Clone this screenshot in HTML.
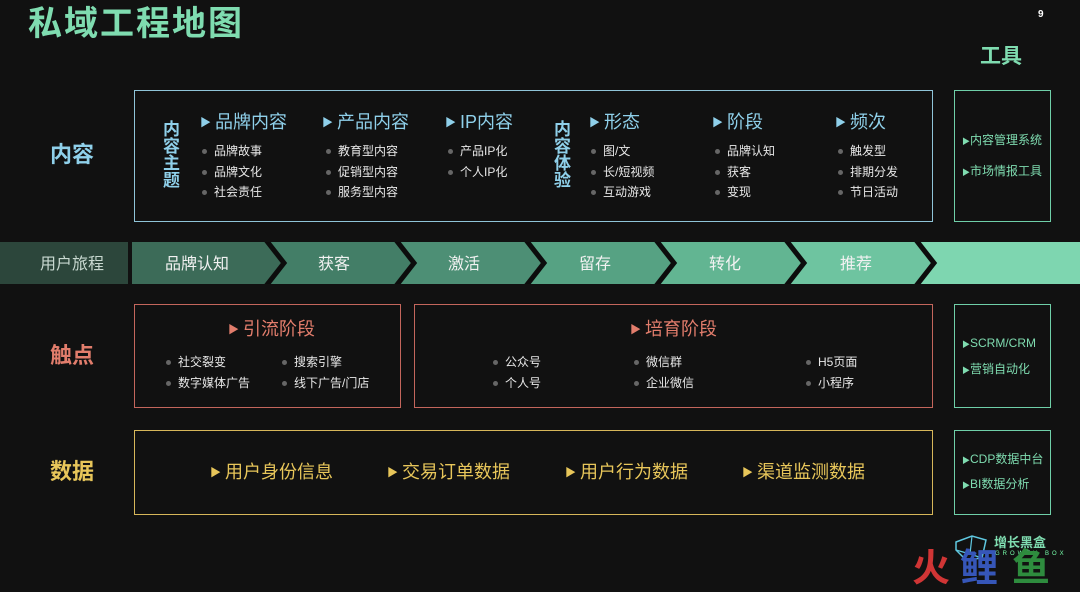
<!DOCTYPE html>
<html><head><meta charset="utf-8"><style>
body{margin:0;width:1080px;height:592px;background:#111111;position:relative;overflow:hidden;font-family:"Liberation Sans","Noto Sans CJK SC",sans-serif;}
.a{position:absolute;white-space:nowrap;line-height:1;}
.box{position:absolute;box-sizing:border-box;border:1.5px solid;}
.it{position:absolute;font-size:12px;color:#e8e8e8;white-space:nowrap;line-height:1;}
.it::before{content:"";position:absolute;left:-12px;top:4px;width:5px;height:5px;border-radius:50%;background:#666;}
.h{position:absolute;font-size:18px;white-space:nowrap;line-height:1;}
.tri{font-size:11px;vertical-align:2px;margin-right:4px;}
</style></head><body>
<div class="a" style="left:28px;top:7px;font-size:34px;font-weight:bold;color:#7fdcb0;letter-spacing:2px">私域工程地图</div>
<div class="a" style="left:1038px;top:10px;font-size:10px;font-weight:bold;color:#fff">9</div>
<div class="a" style="left:980px;top:46px;font-size:21px;font-weight:bold;color:#7fdcb0">工具</div>

<!-- content -->
<div class="box" style="left:134px;top:90px;width:799px;height:132px;border-color:#8fc4d8"></div>
<div class="box" style="left:954px;top:90px;width:97px;height:132px;border-color:#6fcfa8"></div>
<div class="a" style="left:50px;top:144px;font-size:22px;font-weight:bold;color:#8fd0ea">内容</div>
<div class="a" style="left:163px;top:121px;font-size:17px;font-weight:bold;color:#8fd0ea;width:18px;white-space:normal;line-height:17px">内容主题</div>
<div class="a" style="left:554px;top:121px;font-size:17px;font-weight:bold;color:#8fd0ea;width:18px;white-space:normal;line-height:17px">内容体验</div>
<div class="h" style="left:200px;top:113px;color:#8fd0ea"><span class="tri">▶</span>品牌内容</div>
<div class="h" style="left:322px;top:113px;color:#8fd0ea"><span class="tri">▶</span>产品内容</div>
<div class="h" style="left:445px;top:113px;color:#8fd0ea"><span class="tri">▶</span>IP内容</div>
<div class="h" style="left:589px;top:113px;color:#8fd0ea"><span class="tri">▶</span>形态</div>
<div class="h" style="left:712px;top:113px;color:#8fd0ea"><span class="tri">▶</span>阶段</div>
<div class="h" style="left:835px;top:113px;color:#8fd0ea"><span class="tri">▶</span>频次</div>
<div class="it" style="left:214px;top:145px">品牌故事</div><div class="it" style="left:214px;top:166px">品牌文化</div><div class="it" style="left:214px;top:186px">社会责任</div>
<div class="it" style="left:338px;top:145px">教育型内容</div><div class="it" style="left:338px;top:166px">促销型内容</div><div class="it" style="left:338px;top:186px">服务型内容</div>
<div class="it" style="left:460px;top:145px">产品IP化</div><div class="it" style="left:460px;top:166px">个人IP化</div>
<div class="it" style="left:603px;top:145px">图/文</div><div class="it" style="left:603px;top:166px">长/短视频</div><div class="it" style="left:603px;top:186px">互动游戏</div>
<div class="it" style="left:727px;top:145px">品牌认知</div><div class="it" style="left:727px;top:166px">获客</div><div class="it" style="left:727px;top:186px">变现</div>
<div class="it" style="left:850px;top:145px">触发型</div><div class="it" style="left:850px;top:166px">排期分发</div><div class="it" style="left:850px;top:186px">节日活动</div>
<div class="a" style="left:962px;top:134px;font-size:12px;color:#7fdcb0"><span style="font-size:8px">▶</span>内容管理系统</div>
<div class="a" style="left:962px;top:165px;font-size:12px;color:#7fdcb0"><span style="font-size:8px">▶</span>市场情报工具</div>

<!-- band -->
<svg class="a" style="left:0;top:242px" width="1080" height="42">
<rect x="0" y="0" width="128" height="42" fill="#2c463b"/>
<polygon points="918,0 1080,0 1080,42 918,42 935,21" fill="#7ed6b0"/>
<polygon points="788,0 918,0 935,21 918,42 788,42 805,21" fill="#6ec4a0"/>
<polygon points="658,0 788,0 805,21 788,42 658,42 675,21" fill="#62b592"/>
<polygon points="528,0 658,0 675,21 658,42 528,42 545,21" fill="#56a283"/>
<polygon points="398,0 528,0 545,21 528,42 398,42 415,21" fill="#4d8f75"/>
<polygon points="268,0 398,0 415,21 398,42 268,42 285,21" fill="#437e67"/>
<polygon points="132,0 268,0 285,21 268,42 132,42" fill="#3c6b58"/>
<g stroke="#0c0c0c" stroke-width="5" fill="none">
<polyline points="266,-2 284,21 266,44"/><polyline points="396,-2 414,21 396,44"/><polyline points="526,-2 544,21 526,44"/><polyline points="656,-2 674,21 656,44"/><polyline points="786,-2 804,21 786,44"/><polyline points="916,-2 934,21 916,44"/>
</g>
<g fill="#f2f2f2" font-size="16" font-family="Liberation Sans,Noto Sans CJK SC,sans-serif">
<text x="40" y="27" fill="#c8d8d0">用户旅程</text>
<text x="165" y="27">品牌认知</text><text x="318" y="27">获客</text><text x="448" y="27">激活</text><text x="579" y="27">留存</text><text x="709" y="27">转化</text><text x="840" y="27">推荐</text>
</g></svg>

<!-- touchpoints -->
<div class="box" style="left:134px;top:304px;width:267px;height:104px;border-color:#c4665c"></div>
<div class="box" style="left:414px;top:304px;width:519px;height:104px;border-color:#c4665c"></div>
<div class="box" style="left:954px;top:304px;width:97px;height:104px;border-color:#6fcfa8"></div>
<div class="a" style="left:50px;top:345px;font-size:22px;font-weight:bold;color:#e27d6c">触点</div>
<div class="h" style="left:228px;top:320px;color:#e27d6c"><span class="tri">▶</span>引流阶段</div>
<div class="h" style="left:630px;top:320px;color:#e27d6c"><span class="tri">▶</span>培育阶段</div>
<div class="it" style="left:178px;top:356px">社交裂变</div><div class="it" style="left:178px;top:377px">数字媒体广告</div>
<div class="it" style="left:294px;top:356px">搜索引擎</div><div class="it" style="left:294px;top:377px">线下广告/门店</div>
<div class="it" style="left:505px;top:356px">公众号</div><div class="it" style="left:505px;top:377px">个人号</div>
<div class="it" style="left:646px;top:356px">微信群</div><div class="it" style="left:646px;top:377px">企业微信</div>
<div class="it" style="left:818px;top:356px">H5页面</div><div class="it" style="left:818px;top:377px">小程序</div>
<div class="a" style="left:962px;top:337px;font-size:12px;color:#7fdcb0"><span style="font-size:8px">▶</span>SCRM/CRM</div>
<div class="a" style="left:962px;top:363px;font-size:12px;color:#7fdcb0"><span style="font-size:8px">▶</span>营销自动化</div>

<!-- data -->
<div class="box" style="left:134px;top:430px;width:799px;height:85px;border-color:#d7b75a"></div>
<div class="box" style="left:954px;top:430px;width:97px;height:85px;border-color:#6fcfa8"></div>
<div class="a" style="left:50px;top:461px;font-size:22px;font-weight:bold;color:#e8c65a">数据</div>
<div class="h" style="left:210px;top:463px;color:#e8c65a"><span class="tri">▶</span>用户身份信息</div>
<div class="h" style="left:387px;top:463px;color:#e8c65a"><span class="tri">▶</span>交易订单数据</div>
<div class="h" style="left:565px;top:463px;color:#e8c65a"><span class="tri">▶</span>用户行为数据</div>
<div class="h" style="left:742px;top:463px;color:#e8c65a"><span class="tri">▶</span>渠道监测数据</div>
<div class="a" style="left:962px;top:453px;font-size:12px;color:#7fdcb0"><span style="font-size:8px">▶</span>CDP数据中台</div>
<div class="a" style="left:962px;top:478px;font-size:12px;color:#7fdcb0"><span style="font-size:8px">▶</span>BI数据分析</div>

<!-- logo -->
<svg class="a" style="left:952px;top:532px" width="40" height="30"><path d="M4 10 L20 4 L34 8 L30 26 L14 28 L4 18 Z" fill="none" stroke="#5fc8e0" stroke-width="1.5"/><path d="M20 4 L18 22 M4 18 L18 22 L30 26" stroke="#5fc8e0" stroke-width="1.2" fill="none"/></svg>
<div class="a" style="left:994px;top:536px;font-size:13px;font-weight:bold;color:#7fdcb0">增长黑盒</div>
<div class="a" style="left:995px;top:551px;font-size:6px;color:#7fa;letter-spacing:3px">GROWTH BOX</div>
<div class="a" style="left:912px;top:550px;font-size:38px;font-weight:bold;color:#d03535">火</div>
<div class="a" style="left:960px;top:550px;font-size:38px;font-weight:bold;color:#3656b8">鲤</div>
<div class="a" style="left:1012px;top:550px;font-size:38px;font-weight:bold;color:#2e8c3e">鱼</div>
</body></html>
